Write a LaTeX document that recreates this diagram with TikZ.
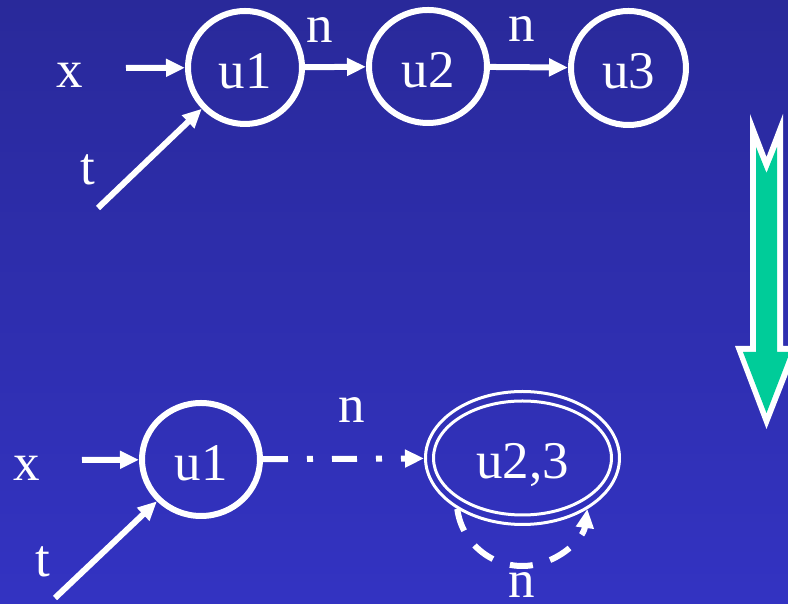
\documentclass[tikz,border=0pt]{standalone}
\usepackage{fontspec}
\setmainfont{Liberation Serif}
\usetikzlibrary{arrows.meta,shapes.geometric}
\definecolor{bgtop}{RGB}{41,41,154}
\definecolor{bgbot}{RGB}{51,51,194}
\definecolor{arrowgreen}{RGB}{0,204,153}
\begin{document}
\begin{tikzpicture}[x=1pt,y=1pt,
  lbl/.style={text=white,font=\fontsize{53}{60}\selectfont,inner sep=0pt},
  state/.style={ellipse,draw=white,line width=6pt,inner sep=0pt,text=white,
    font=\fontsize{53}{60}\selectfont,text height=42pt,text depth=0pt},
  edge/.style={draw=white,line width=6pt,-{Triangle[length=19pt,width=17pt]}},
  ]
\shade[top color=bgtop,bottom color=bgbot] (0,0) rectangle (788,604);
\useasboundingbox (0,0) rectangle (788,604);

% top row
\node[state,minimum width=114pt,minimum height=113pt] (u1) at (245,536.5) {u1};
\node[state,minimum width=118pt,minimum height=113pt] (u2) at (428,537.5) {u2};
\node[state,minimum width=115pt,minimum height=114pt] (u3) at (628.5,536) {u3};
\node[lbl] (lx) at (70,529) {x};
\node[lbl] (lt) at (88,434) {t};
\node[lbl] (n1) at (320,574) {n};
\node[lbl] (n2) at (522,575) {n};
\coordinate (xa) at (126,536);
\coordinate (ta) at (98,396);
\draw[edge] (xa) -- (u1);
\draw[edge] (ta) -- (u1);
\draw[edge] (u1) -- (u2);
\draw[edge] (u2) -- (u3);

% bottom row
\node[state,minimum width=118pt,minimum height=113pt] (v1) at (201,144.5) {u1};
\node[state,line width=3pt,minimum width=194pt,minimum height=133pt] (u23) at (522.5,146) {u2,3};
\draw[white,line width=3pt] (u23.center) ellipse [x radius=89pt, y radius=57pt];
\node[lbl] (lxb) at (27,136) {x};
\node[lbl] (ltb) at (43,42) {t};
\node[lbl] (n3) at (352,194) {n};
\node[lbl] (n4) at (522,19) {n};
\coordinate (xb) at (82,144);
\coordinate (tb) at (55,6);
\draw[edge] (xb) -- (v1);
\draw[edge] (tb) -- (v1);
\draw[edge,dash pattern=on 25pt off 19pt on 6pt off 19pt] (v1) -- (u23);
\draw[edge,dash pattern=on 23pt off 18pt] (u23.218) arc[start angle=187.5,end angle=352.5,radius=65.6pt];

% big down arrow
\fill[white] (750,490) -- (766.5,447) -- (783,490) -- (783,258) -- (799,258)
  -- (766.5,175) -- (735,258) -- (750,258) -- cycle;
\fill[arrowgreen] (756,457) -- (766.5,431) -- (777,457) -- (777,252) -- (790,252)
  -- (766.5,191) -- (743,252) -- (756,252) -- cycle;
\end{tikzpicture}
\end{document}
